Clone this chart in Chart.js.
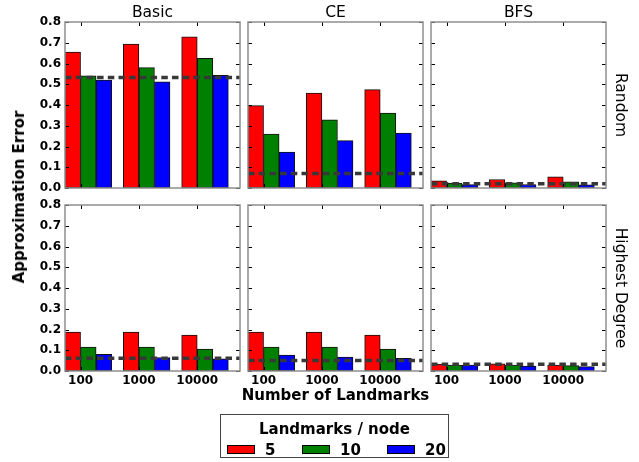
<!DOCTYPE html>
<html>
<head>
<meta charset="utf-8">
<script src="https://cdn.jsdelivr.net/npm/chart.js@4/dist/chart.umd.min.js"></script>
<style>
	body { margin: 0; background: #fff; font-family: "DejaVu Sans", sans-serif; }
	#fig { position: relative; width: 639px; height: 462px; overflow: hidden; }
	canvas { position: absolute; }
	.txt { position: absolute; white-space: nowrap; color: #000; }
	.title { font-size: 15.5px; transform: translate(-50%, -50%); }
	.side { font-size: 15.5px; transform: translate(-50%, -50%) rotate(90deg); }
	.axis { font-size: 15px; font-weight: bold; }
	#legend { position: absolute; left: 220px; top: 414px; width: 229px; height: 44px; border: 1px solid #444; box-sizing: border-box; }
	#legend .swatch { position: absolute; width: 28px; height: 9px; border: 1px solid #000; box-sizing: border-box; }
	#legend .lab { position: absolute; white-space: nowrap; font-size: 15px; font-weight: bold; transform: translateY(-50%); }
</style>
</head>
<body>
<div id="fig"></div>
<script>
const categories = ['100', '1000', '10000'];
const seriesLabels = ['5', '10', '20'];
const seriesColors = ['#ff0000', '#008000', '#0000ff'];
const methods = ['Basic', 'CE', 'BFS'];
const strategies = ['Random', 'Highest Degree'];

// rows: landmarks/node 5, 10, 20; columns: 100, 1000, 10000 landmarks
const randomBasic = [[0.655, 0.694, 0.728], [0.541, 0.580, 0.625], [0.520, 0.512, 0.543]];
const randomCE = [[0.397, 0.458, 0.474], [0.260, 0.329, 0.361], [0.173, 0.228, 0.265]];
const randomBFS = [[0.034, 0.041, 0.054], [0.024, 0.025, 0.030], [0.016, 0.017, 0.015]];
const highestBasic = [[0.188, 0.188, 0.173], [0.115, 0.115, 0.106], [0.080, 0.065, 0.059]];
const highestCE = [[0.188, 0.188, 0.173], [0.115, 0.115, 0.106], [0.077, 0.067, 0.061]];
const highestBFS = [[0.033, 0.035, 0.029], [0.029, 0.029, 0.026], [0.029, 0.024, 0.021]];

const randomBaseline = [0.532, 0.070, 0.021];
const highestBaseline = [0.061, 0.051, 0.033];

const yMax = 0.8;
const yStep = 0.1;

const panels = [
	[randomBasic, randomCE, randomBFS],
	[highestBasic, highestCE, highestBFS],
];
const baselines = [randomBaseline, highestBaseline];

// layout
const colLeft = [65, 248, 431];
const rowTop = [22, 205];
const panelW = 175;
const panelH = 166;
const padL = 50, padT = 16, padR = 6, padB = 20;
const barWidth = 0.8 / 3;

const fig = document.getElementById('fig');

const frame = {
	id: 'frame',
	afterDatasetsDraw(chart) {
		const { ctx, chartArea: a, scales: { x, y } } = chart;
		ctx.save();
		ctx.strokeStyle = '#000';
		ctx.lineWidth = 1;
		ctx.beginPath();
		y.ticks.forEach(t => {
			const py = Math.round(y.getPixelForValue(t.value)) + 0.5;
			ctx.moveTo(a.left, py); ctx.lineTo(a.left + 4, py);
			ctx.moveTo(a.right, py); ctx.lineTo(a.right - 4, py);
		});
		x.ticks.forEach(t => {
			const px = Math.round(x.getPixelForValue(t.value)) + 0.5;
			ctx.moveTo(px, a.top); ctx.lineTo(px, a.top + 4);
			ctx.moveTo(px, a.bottom); ctx.lineTo(px, a.bottom - 4);
		});
		ctx.stroke();
		ctx.strokeStyle = '#8f8f8f';
		ctx.lineWidth = 1.5;
		ctx.strokeRect(a.left, a.top, a.right - a.left, a.bottom - a.top);
		ctx.restore();
	}
};

function addText(cls, text, x, y) {
	const d = document.createElement('div');
	d.className = 'txt ' + cls;
	d.textContent = text;
	d.style.left = x + 'px';
	d.style.top = y + 'px';
	fig.appendChild(d);
	return d;
}

panels.forEach((row, r) => {
	row.forEach((values, c) => {
		const canvas = document.createElement('canvas');
		canvas.width = panelW + padL + padR;
		canvas.height = panelH + padT + padB;
		canvas.style.left = (colLeft[c] - padL) + 'px';
		canvas.style.top = (rowTop[r] - padT) + 'px';
		fig.appendChild(canvas);

		const datasets = [{
			type: 'line',
			data: [{ x: 0, y: baselines[r][c] }, { x: categories.length, y: baselines[r][c] }],
			borderColor: '#383838',
			borderWidth: 3.5,
			borderDash: [6.5, 4.2],
			pointRadius: 0,
			order: -1,
		}];
		seriesLabels.forEach((s, k) => {
			datasets.push({
				type: 'bar',
				label: s,
				data: categories.map((cat, i) => ({ x: i + (k + 0.5) * barWidth, y: values[k][i] })),
				backgroundColor: seriesColors[k],
				borderColor: '#111',
				borderWidth: 1,
				borderSkipped: false,
				grouped: false,
				categoryPercentage: 1,
				barPercentage: 1,
			});
		});

		new Chart(canvas, {
			data: { datasets },
			options: {
				responsive: false,
				animation: false,
				devicePixelRatio: 1,
				layout: { padding: { top: padT, right: padR, left: 0, bottom: 0 } },
				plugins: { legend: { display: false }, tooltip: { enabled: false } },
				scales: {
					x: {
						type: 'linear',
						offset: false,
						min: 0,
						max: categories.length,
						grid: { display: false, drawTicks: false },
						border: { display: false },
						afterBuildTicks: s => { s.ticks = categories.map((cat, i) => ({ value: i + barWidth })); },
						afterFit: s => { s.height = padB; },
						ticks: {
							display: r === 1,
							autoSkip: false,
							maxRotation: 0,
							padding: 3,
							color: '#000',
							font: { family: 'DejaVu Sans', size: 12, weight: 'bold' },
							callback: (v, i) => categories[i],
						},
					},
					y: {
						min: 0,
						max: yMax,
						grid: { display: false, drawTicks: false },
						border: { display: false },
						afterFit: s => { s.width = padL; },
						ticks: {
							display: c === 0,
							stepSize: yStep,
							padding: 4,
							color: '#000',
							font: { family: 'DejaVu Sans', size: 12, weight: 'bold' },
							callback: v => v.toFixed(1),
						},
					},
				},
			},
			plugins: [frame],
		});
	});
});

methods.forEach((m, c) => addText('title', m, colLeft[c] + panelW / 2, 12));
strategies.forEach((s, r) => addText('side', s, 621, rowTop[r] + panelH / 2));

const yl = addText('axis', 'Approximation Error', 19, (rowTop[0] + rowTop[1] + panelH) / 2);
yl.style.transform = 'translate(-50%, -50%) rotate(-90deg)';
const xl = addText('axis', 'Number of Landmarks', (colLeft[0] + colLeft[2] + panelW) / 2, 395);
xl.style.transform = 'translate(-50%, -50%)';

// legend
const legend = document.createElement('div');
legend.id = 'legend';
fig.appendChild(legend);
const lt = document.createElement('div');
lt.className = 'lab';
lt.textContent = 'Landmarks / node';
lt.style.left = '50%';
lt.style.top = '14px';
lt.style.transform = 'translate(-50%, -50%)';
legend.appendChild(lt);
const itemX = [6, 81, 166];
seriesLabels.forEach((s, k) => {
	const sw = document.createElement('div');
	sw.className = 'swatch';
	sw.style.left = itemX[k] + 'px';
	sw.style.top = '30px';
	sw.style.background = seriesColors[k];
	legend.appendChild(sw);
	const lb = document.createElement('div');
	lb.className = 'lab';
	lb.textContent = s;
	lb.style.left = (itemX[k] + 38) + 'px';
	lb.style.top = '35px';
	legend.appendChild(lb);
});
</script>
</body>
</html>
